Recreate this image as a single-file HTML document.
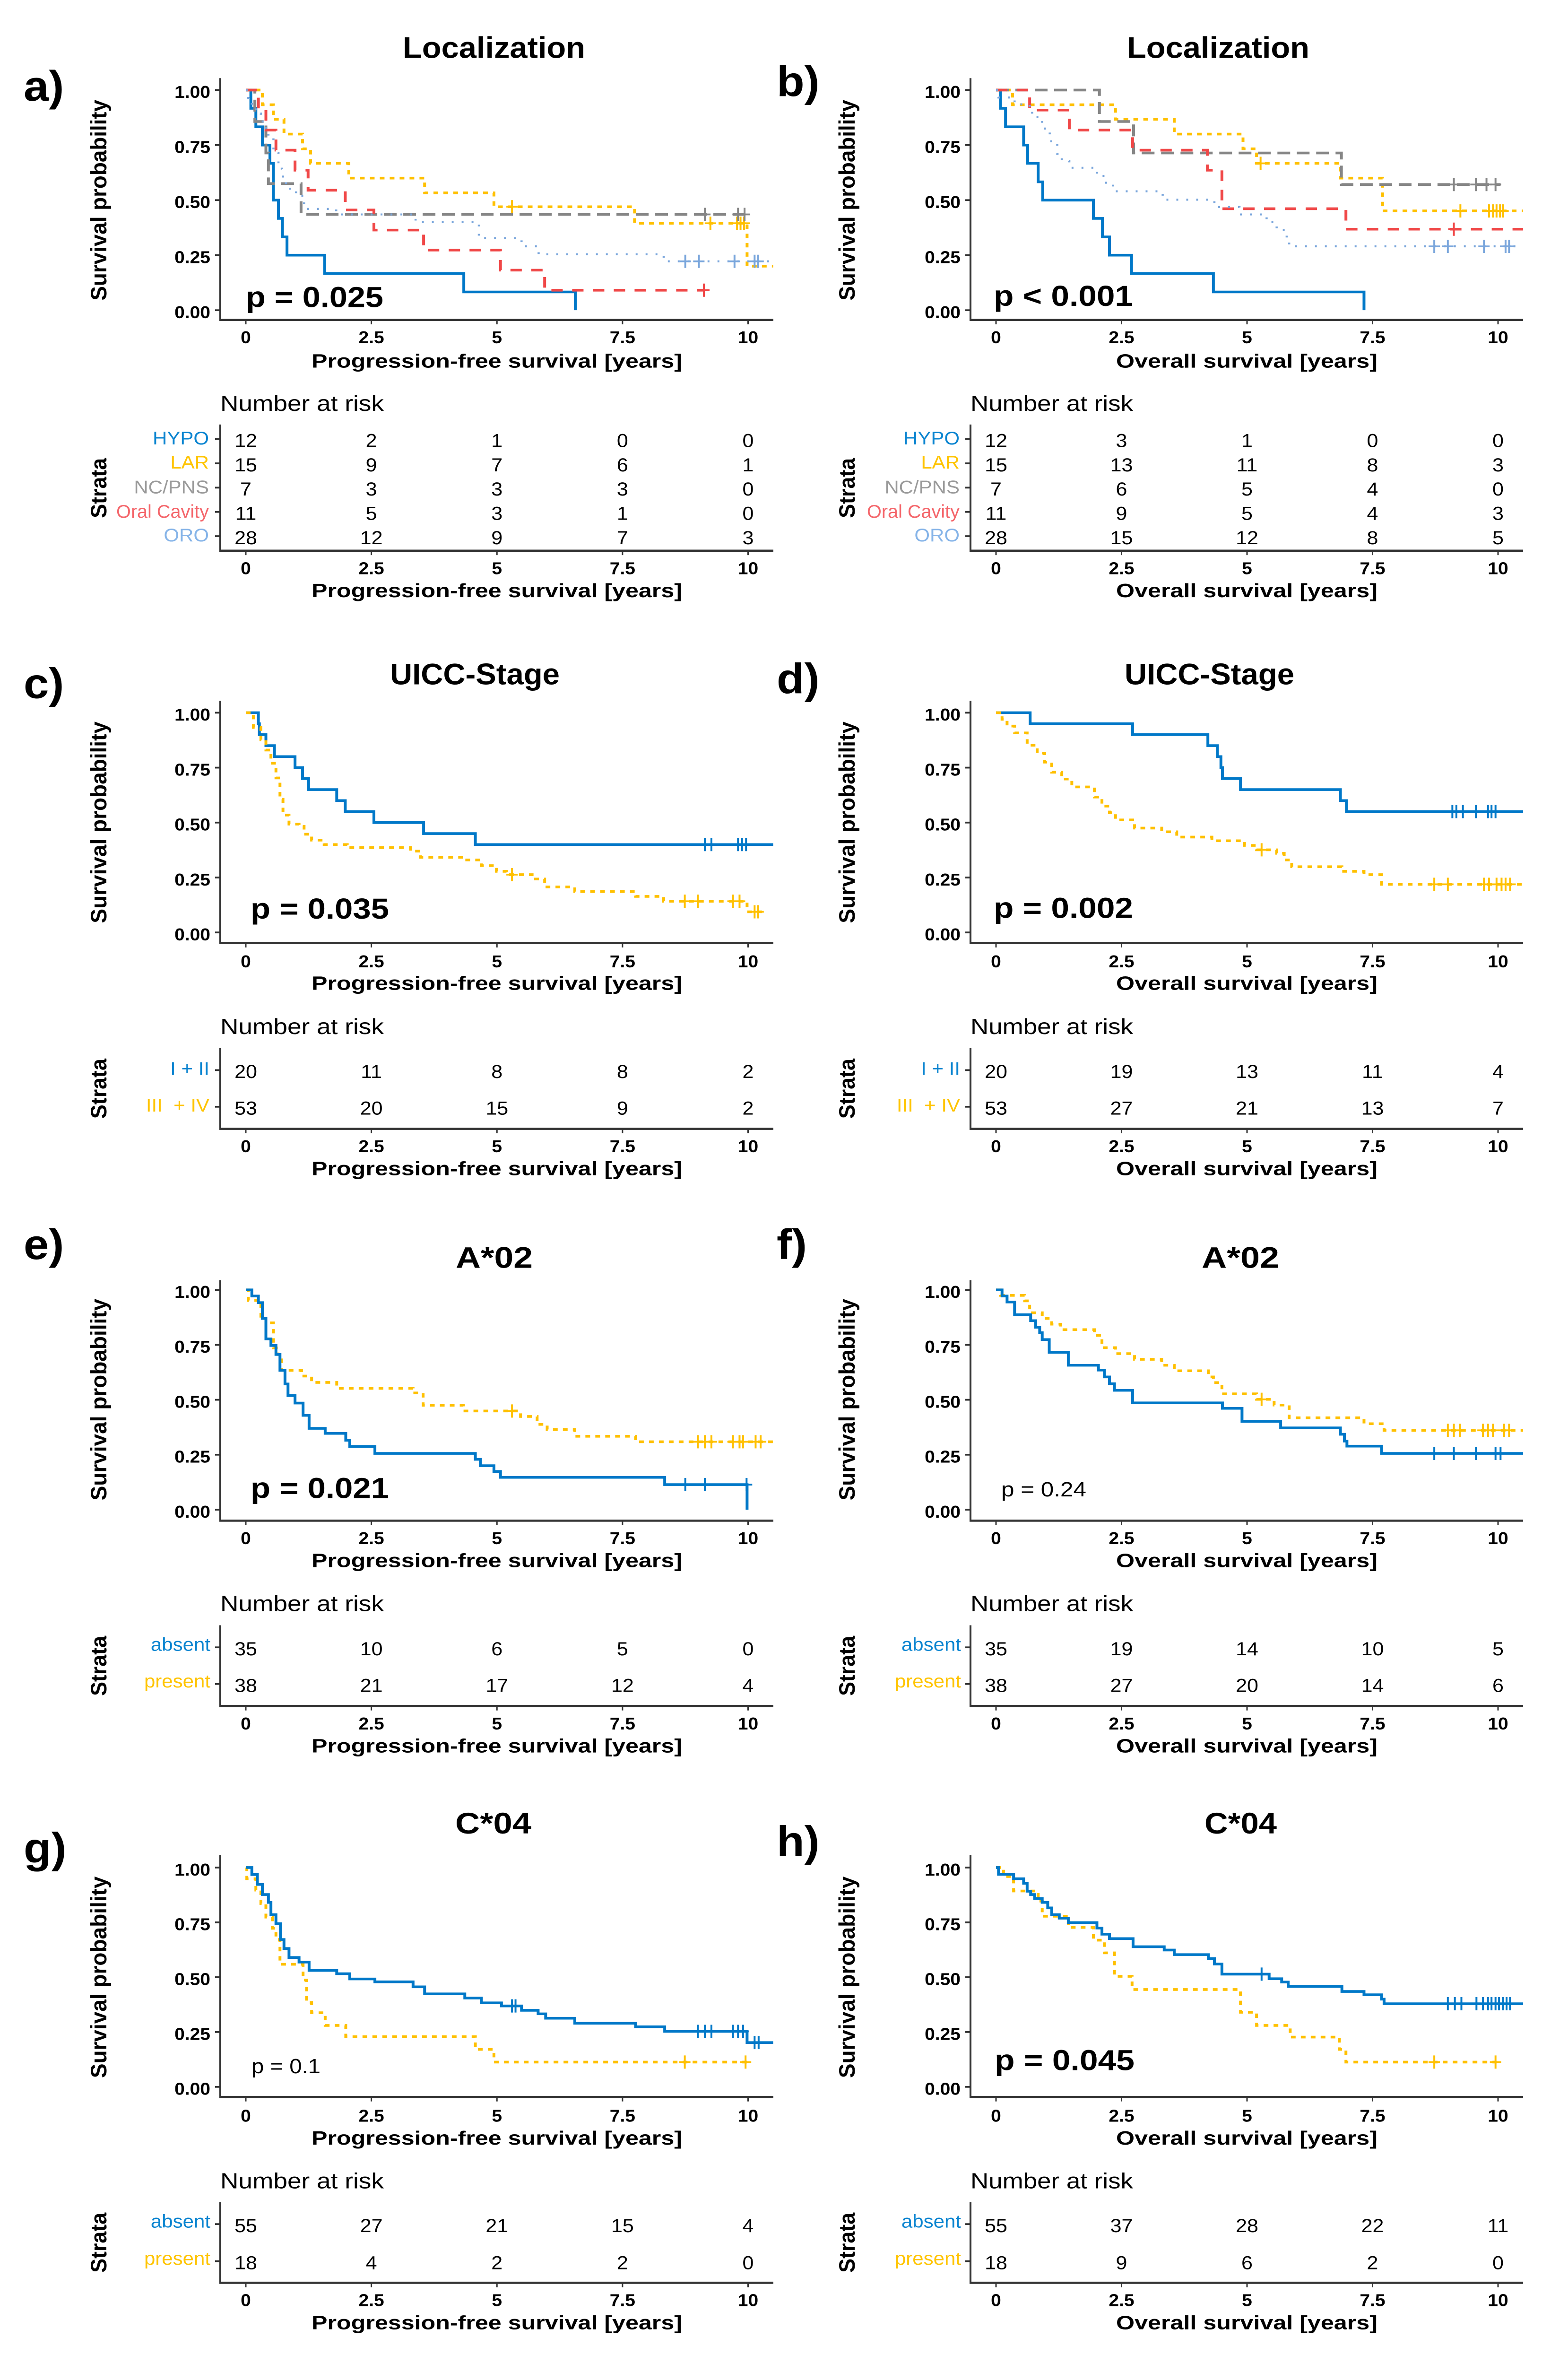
<!DOCTYPE html>
<html lang="en">
<head>
<meta charset="utf-8">
<title>Kaplan-Meier survival panels</title>
<style>
html,body{margin:0;padding:0;background:#fff;width:100%;height:100%;overflow:hidden;}
svg{display:block;position:absolute;left:0;top:0;width:100vw;height:100vh;}
text{font-family:"Liberation Sans",sans-serif;fill:#000;}
.title{font-size:68px;font-weight:700;}
.letter{font-size:96px;font-weight:700;}
.pb{font-size:66px;font-weight:700;}
.pn{font-size:47px;}
.yt{font-size:47px;font-weight:700;}
.xt{font-size:44px;font-weight:700;}
.nar{font-size:50px;}
.sl{font-size:42px;text-anchor:end;}
.tick{font-size:39px;font-weight:700;}
.num{font-size:43px;}
</style>
</head>
<body>
<svg id="figure" xmlns="http://www.w3.org/2000/svg" viewBox="0 0 3317 5357" preserveAspectRatio="none">
<rect width="3317" height="5357" fill="#fff"/>

<g id="static-labels">
<!-- panel a -->
<text class="letter" x="50" y="228">a)</text>
<text class="title" x="852" y="131" textLength="386" lengthAdjust="spacingAndGlyphs">Localization</text>
<text class="pb" x="520" y="696" textLength="291" lengthAdjust="spacingAndGlyphs">p = 0.025</text>
<text class="yt" transform="translate(225,681) rotate(-90)" textLength="455" lengthAdjust="spacingAndGlyphs">Survival probability</text>
<text class="xt" x="659" y="833" textLength="784" lengthAdjust="spacingAndGlyphs">Progression-free survival [years]</text>
<text class="nar" x="466" y="931" textLength="346" lengthAdjust="spacingAndGlyphs">Number at risk</text>
<text class="yt" transform="translate(225,1174) rotate(-90)" textLength="136" lengthAdjust="spacingAndGlyphs">Strata</text>
<text class="sl" x="442" y="1007" style="fill:#0a84d0">HYPO</text>
<text class="sl" x="442" y="1062" style="fill:#ffc400">LAR</text>
<text class="sl" x="442" y="1118" style="fill:#9a9a9a">NC/PNS</text>
<text class="sl" x="442" y="1173" textLength="196" lengthAdjust="spacingAndGlyphs" style="fill:#f4656a">Oral Cavity</text>
<text class="sl" x="442" y="1227" style="fill:#86b4e8">ORO</text>
<text class="xt" x="659" y="1353" textLength="784" lengthAdjust="spacingAndGlyphs">Progression-free survival [years]</text>

<!-- panel b -->
<text class="letter" x="1643" y="218">b)</text>
<text class="title" x="2384" y="131" textLength="386" lengthAdjust="spacingAndGlyphs">Localization</text>
<text class="pb" x="2102" y="693" textLength="295" lengthAdjust="spacingAndGlyphs">p &lt; 0.001</text>
<text class="yt" transform="translate(1808,681) rotate(-90)" textLength="455" lengthAdjust="spacingAndGlyphs">Survival probability</text>
<text class="xt" x="2361" y="833" textLength="553" lengthAdjust="spacingAndGlyphs">Overall survival [years]</text>
<text class="nar" x="2053" y="931" textLength="344" lengthAdjust="spacingAndGlyphs">Number at risk</text>
<text class="yt" transform="translate(1808,1174) rotate(-90)" textLength="136" lengthAdjust="spacingAndGlyphs">Strata</text>
<text class="sl" x="2030" y="1007" style="fill:#0a84d0">HYPO</text>
<text class="sl" x="2030" y="1062" style="fill:#ffc400">LAR</text>
<text class="sl" x="2030" y="1118" style="fill:#9a9a9a">NC/PNS</text>
<text class="sl" x="2030" y="1173" textLength="196" lengthAdjust="spacingAndGlyphs" style="fill:#f4656a">Oral Cavity</text>
<text class="sl" x="2030" y="1227" style="fill:#86b4e8">ORO</text>
<text class="xt" x="2361" y="1353" textLength="553" lengthAdjust="spacingAndGlyphs">Overall survival [years]</text>

<!-- panel c -->
<text class="letter" x="50" y="1582">c)</text>
<text class="title" x="825" y="1551" textLength="359" lengthAdjust="spacingAndGlyphs">UICC-Stage</text>
<text class="pb" x="530" y="2082" textLength="293" lengthAdjust="spacingAndGlyphs">p = 0.035</text>
<text class="yt" transform="translate(225,2092) rotate(-90)" textLength="457" lengthAdjust="spacingAndGlyphs">Survival probability</text>
<text class="xt" x="659" y="2243" textLength="784" lengthAdjust="spacingAndGlyphs">Progression-free survival [years]</text>
<text class="nar" x="466" y="2343" textLength="346" lengthAdjust="spacingAndGlyphs">Number at risk</text>
<text class="yt" transform="translate(225,2535) rotate(-90)" textLength="136" lengthAdjust="spacingAndGlyphs">Strata</text>
<text class="sl" x="443" y="2436" style="fill:#0a84d0">I + II</text>
<text class="sl" x="443" y="2519" xml:space="preserve" style="fill:#ffc400;white-space:pre">III  + IV</text>
<text class="xt" x="659" y="2663" textLength="784" lengthAdjust="spacingAndGlyphs">Progression-free survival [years]</text>

<!-- panel d -->
<text class="letter" x="1643" y="1571">d)</text>
<text class="title" x="2379" y="1551" textLength="359" lengthAdjust="spacingAndGlyphs">UICC-Stage</text>
<text class="pb" x="2102" y="2080" textLength="295" lengthAdjust="spacingAndGlyphs">p = 0.002</text>
<text class="yt" transform="translate(1808,2092) rotate(-90)" textLength="457" lengthAdjust="spacingAndGlyphs">Survival probability</text>
<text class="xt" x="2361" y="2243" textLength="553" lengthAdjust="spacingAndGlyphs">Overall survival [years]</text>
<text class="nar" x="2053" y="2343" textLength="344" lengthAdjust="spacingAndGlyphs">Number at risk</text>
<text class="yt" transform="translate(1808,2535) rotate(-90)" textLength="136" lengthAdjust="spacingAndGlyphs">Strata</text>
<text class="sl" x="2031" y="2436" style="fill:#0a84d0">I + II</text>
<text class="sl" x="2031" y="2519" xml:space="preserve" style="fill:#ffc400;white-space:pre">III  + IV</text>
<text class="xt" x="2361" y="2663" textLength="553" lengthAdjust="spacingAndGlyphs">Overall survival [years]</text>

<!-- panel e -->
<text class="letter" x="50" y="2853">e)</text>
<text class="title" x="964" y="2873" textLength="163" lengthAdjust="spacingAndGlyphs">A*02</text>
<text class="pb" x="530" y="3395" textLength="293" lengthAdjust="spacingAndGlyphs">p = 0.021</text>
<text class="yt" transform="translate(225,3400) rotate(-90)" textLength="457" lengthAdjust="spacingAndGlyphs">Survival probability</text>
<text class="xt" x="659" y="3551" textLength="784" lengthAdjust="spacingAndGlyphs">Progression-free survival [years]</text>
<text class="nar" x="466" y="3651" textLength="346" lengthAdjust="spacingAndGlyphs">Number at risk</text>
<text class="yt" transform="translate(225,3843) rotate(-90)" textLength="136" lengthAdjust="spacingAndGlyphs">Strata</text>
<text class="sl" x="445" y="3741" style="fill:#0a84d0">absent</text>
<text class="sl" x="445" y="3824" style="fill:#ffc400">present</text>
<text class="xt" x="659" y="3971" textLength="784" lengthAdjust="spacingAndGlyphs">Progression-free survival [years]</text>

<!-- panel f -->
<text class="letter" x="1643" y="2853">f)</text>
<text class="title" x="2542" y="2873" textLength="164" lengthAdjust="spacingAndGlyphs">A*02</text>
<text class="pn" x="2118" y="3391" textLength="180" lengthAdjust="spacingAndGlyphs">p = 0.24</text>
<text class="yt" transform="translate(1808,3400) rotate(-90)" textLength="457" lengthAdjust="spacingAndGlyphs">Survival probability</text>
<text class="xt" x="2361" y="3551" textLength="553" lengthAdjust="spacingAndGlyphs">Overall survival [years]</text>
<text class="nar" x="2053" y="3651" textLength="344" lengthAdjust="spacingAndGlyphs">Number at risk</text>
<text class="yt" transform="translate(1808,3843) rotate(-90)" textLength="136" lengthAdjust="spacingAndGlyphs">Strata</text>
<text class="sl" x="2033" y="3741" style="fill:#0a84d0">absent</text>
<text class="sl" x="2033" y="3824" style="fill:#ffc400">present</text>
<text class="xt" x="2361" y="3971" textLength="553" lengthAdjust="spacingAndGlyphs">Overall survival [years]</text>

<!-- panel g -->
<text class="letter" x="50" y="4221">g)</text>
<text class="title" x="963" y="4155" textLength="161" lengthAdjust="spacingAndGlyphs">C*04</text>
<text class="pn" x="532" y="4698" textLength="146" lengthAdjust="spacingAndGlyphs">p = 0.1</text>
<text class="yt" transform="translate(225,4709) rotate(-90)" textLength="457" lengthAdjust="spacingAndGlyphs">Survival probability</text>
<text class="xt" x="659" y="4860" textLength="784" lengthAdjust="spacingAndGlyphs">Progression-free survival [years]</text>
<text class="nar" x="466" y="4959" textLength="346" lengthAdjust="spacingAndGlyphs">Number at risk</text>
<text class="yt" transform="translate(225,5150) rotate(-90)" textLength="136" lengthAdjust="spacingAndGlyphs">Strata</text>
<text class="sl" x="445" y="5048" style="fill:#0a84d0">absent</text>
<text class="sl" x="445" y="5132" style="fill:#ffc400">present</text>
<text class="xt" x="659" y="5278" textLength="784" lengthAdjust="spacingAndGlyphs">Progression-free survival [years]</text>

<!-- panel h -->
<text class="letter" x="1643" y="4206">h)</text>
<text class="title" x="2548" y="4155" textLength="153" lengthAdjust="spacingAndGlyphs">C*04</text>
<text class="pb" x="2104" y="4691" textLength="296" lengthAdjust="spacingAndGlyphs">p = 0.045</text>
<text class="yt" transform="translate(1808,4709) rotate(-90)" textLength="457" lengthAdjust="spacingAndGlyphs">Survival probability</text>
<text class="xt" x="2361" y="4860" textLength="553" lengthAdjust="spacingAndGlyphs">Overall survival [years]</text>
<text class="nar" x="2053" y="4959" textLength="344" lengthAdjust="spacingAndGlyphs">Number at risk</text>
<text class="yt" transform="translate(1808,5150) rotate(-90)" textLength="136" lengthAdjust="spacingAndGlyphs">Strata</text>
<text class="sl" x="2033" y="5048" style="fill:#0a84d0">absent</text>
<text class="sl" x="2033" y="5132" style="fill:#ffc400">present</text>
<text class="xt" x="2361" y="5278" textLength="553" lengthAdjust="spacingAndGlyphs">Overall survival [years]</text>
</g>
<g id="charts"></g>
</svg>

<script>
// Shared axis values
const xTickValues = [0, 2.5, 5, 7.5, 10];
const xTickLabels = ['0', '2.5', '5', '7.5', '10'];
const yTickValues = [0, 0.25, 0.5, 0.75, 1];
const yTickLabels = ['0.00', '0.25', '0.50', '0.75', '1.00'];

// Panel a: Localization, progression-free survival
const aHypoT = [0.1,0.2,0.33,0.48,0.55,0.65,0.73,0.82,1.57,4.34,6.56];
const aHypoS = [0.917,0.833,0.75,0.667,0.5,0.417,0.333,0.25,0.167,0.083,0];
const aHypoC = [];
const aHypoEnd = [6.56];
const aLarT = [0.33,0.55,0.76,1.13,1.29,2.05,3.56,4.94,7.74,9.98];
const aLarS = [0.933,0.867,0.8,0.733,0.667,0.6,0.533,0.47,0.395,0.2];
const aLarC = [5.3,9.25,9.78,9.85,9.92];
const aLarEnd = [10.5];
const aNcT = [0.18,0.4,0.45,1.1];
const aNcS = [0.857,0.714,0.575,0.435];
const aNcC = [9.14,9.8,9.93];
const aNcEnd = [10.03];
const aOralT = [0.25,0.4,0.6,0.98,1.24,1.98,2.55,3.54,5.07,5.95];
const aOralS = [0.909,0.818,0.727,0.636,0.545,0.455,0.364,0.273,0.182,0.091];
const aOralC = [9.12];
const aOralEnd = [9.12];
const aOroT = [0.05,0.12,0.2,0.3,0.4,0.45,0.55,0.65,0.72,0.8,1.0,1.16,1.8,3.38,4.64,5.49,5.83,8.32];
const aOroS = [0.964,0.929,0.893,0.857,0.821,0.786,0.714,0.643,0.607,0.552,0.52,0.46,0.435,0.4,0.327,0.29,0.254,0.222];
const aOroC = [8.75,9.02,9.73,10.13,10.2];
const aOroEnd = [10.43];
const aRisk = [[12,2,1,0,0],[15,9,7,6,1],[7,3,3,3,0],[11,5,3,1,0],[28,12,9,7,3]];

// Panel b: Localization, overall survival
const bHypoT = [0.09,0.19,0.55,0.63,0.84,0.93,1.94,2.12,2.26,2.7,4.33,7.33];
const bHypoS = [0.917,0.833,0.75,0.667,0.583,0.5,0.417,0.333,0.25,0.167,0.083,0];
const bHypoC = [];
const bHypoEnd = [7.33];
const bLarT = [0.33,2.38,3.55,4.92,5.19,6.86,7.7];
const bLarS = [0.933,0.867,0.8,0.733,0.667,0.6,0.451];
const bLarC = [5.27,9.25,9.82,9.9,9.97,10.04,10.1];
const bLarEnd = [10.5];
const bNcT = [2.06,2.74,6.88];
const bNcS = [0.857,0.714,0.571];
const bNcC = [9.12,9.56,9.77,9.95];
const bNcEnd = [10.05];
const bOralT = [0.67,1.46,2.72,4.21,4.5,6.97];
const bOralS = [0.909,0.818,0.727,0.636,0.461,0.368];
const bOralC = [9.12];
const bOralEnd = [10.5];
const bOroT = [0.05,0.37,0.67,0.72,0.92,1.07,1.22,1.31,1.46,2.01,2.16,2.33,3.32,4.35,4.85,5.39,5.59,5.79,5.84];
const bOroS = [0.966,0.935,0.924,0.877,0.825,0.767,0.71,0.678,0.647,0.61,0.579,0.54,0.502,0.469,0.435,0.4,0.364,0.327,0.29];
const bOroC = [8.73,9.0,9.72,10.15,10.22];
const bOroEnd = [10.5];
const bRisk = [[12,3,1,0,0],[15,13,11,8,3],[7,6,5,4,0],[11,9,5,4,3],[28,15,12,8,5]];

// Panel c: UICC stage, progression-free survival
const cLowT = [0.25,0.27,0.4,0.57,0.98,1.13,1.25,1.81,1.98,2.55,3.54,4.57];
const cLowS = [0.95,0.9,0.85,0.8,0.75,0.7,0.65,0.6,0.55,0.5,0.45,0.4];
const cLowC = [9.14,9.27,9.8,9.88,9.96];
const cLowEnd = [10.5];
const cHighT = [0.15,0.3,0.4,0.5,0.6,0.68,0.74,0.86,1.06,1.16,1.31,1.56,2.02,3.28,3.48,4.33,4.69,4.99,5.19,5.7,5.95,6.55,7.76,8.32,9.98];
const cHighS = [0.933,0.877,0.83,0.77,0.703,0.606,0.534,0.493,0.483,0.447,0.42,0.4,0.386,0.37,0.342,0.33,0.304,0.278,0.263,0.243,0.207,0.186,0.164,0.142,0.094];
const cHighC = [5.3,8.74,9.0,9.7,9.83,10.13,10.2];
const cHighEnd = [10.28];
const cRisk = [[20,11,8,8,2],[53,20,15,9,2]];

// Panel d: UICC stage, overall survival
const dLowT = [0.68,2.72,4.22,4.41,4.48,4.51,4.87,6.86,6.98];
const dLowS = [0.95,0.9,0.85,0.8,0.75,0.7,0.65,0.6,0.55];
const dLowC = [9.09,9.17,9.3,9.56,9.8,9.87,9.95];
const dLowEnd = [10.5];
const dHighT = [0.12,0.22,0.37,0.62,0.82,0.97,1.11,1.31,1.51,1.96,2.11,2.26,2.38,2.76,3.3,3.6,4.3,4.95,5.19,5.59,5.74,5.89,6.89,7.33,7.68];
const dHighS = [0.97,0.939,0.908,0.852,0.816,0.775,0.729,0.698,0.662,0.616,0.575,0.545,0.512,0.475,0.458,0.434,0.417,0.396,0.376,0.36,0.33,0.299,0.278,0.263,0.219];
const dHighC = [5.29,8.73,9.0,9.72,9.82,9.97,10.07,10.15,10.24];
const dHighEnd = [10.5];
const dRisk = [[20,19,13,11,4],[53,27,21,13,7]];

// Panel e: A*02, progression-free survival
const eAbsT = [0.12,0.25,0.33,0.4,0.5,0.6,0.68,0.78,0.84,0.98,1.14,1.26,1.58,1.99,2.07,2.57,4.57,4.67,4.94,5.07,8.34,9.98];
const eAbsS = [0.972,0.942,0.87,0.777,0.747,0.706,0.634,0.572,0.519,0.485,0.429,0.37,0.347,0.316,0.288,0.256,0.229,0.2,0.174,0.147,0.114,0];
const eAbsC = [8.75,9.14,9.97];
const eAbsEnd = [9.98];
const ePreT = [0.05,0.3,0.4,0.55,0.64,0.71,1.11,1.31,1.81,3.33,3.53,4.33,5.47,5.8,6.0,6.55,7.76];
const ePreS = [0.952,0.88,0.85,0.736,0.706,0.634,0.608,0.579,0.552,0.531,0.475,0.449,0.424,0.388,0.365,0.334,0.309];
const ePreC = [5.3,9.0,9.14,9.27,9.7,9.83,9.9,10.15,10.25];
const ePreEnd = [10.5];
const eRisk = [[35,10,6,5,0],[38,21,17,12,4]];

// Panel f: A*02, overall survival
const fAbsT = [0.12,0.22,0.37,0.69,0.79,0.87,0.92,1.06,1.44,2.04,2.16,2.26,2.36,2.72,4.51,4.9,5.67,6.86,6.94,6.99,7.68];
const fAbsS = [0.972,0.945,0.887,0.86,0.83,0.805,0.774,0.716,0.657,0.635,0.604,0.573,0.543,0.486,0.461,0.402,0.372,0.343,0.312,0.289,0.256];
const fAbsC = [8.73,9.12,9.56,9.95,10.05];
const fAbsEnd = [10.5];
const fPreT = [0.09,0.57,0.67,0.92,1.11,1.29,1.96,2.11,2.38,2.76,3.3,3.55,4.23,4.33,4.5,5.19,5.54,5.84,7.33,7.73];
const fPreS = [0.975,0.95,0.896,0.87,0.844,0.819,0.793,0.737,0.71,0.684,0.657,0.632,0.604,0.578,0.527,0.502,0.476,0.418,0.391,0.361];
const fPreC = [5.29,9.0,9.12,9.24,9.7,9.8,9.9,10.12,10.22];
const fPreEnd = [10.5];
const fRisk = [[35,19,14,10,5],[38,27,20,14,6]];

// Panel g: C*04, progression-free survival
const gAbsT = [0.12,0.23,0.33,0.45,0.5,0.6,0.69,0.76,0.86,1.06,1.26,1.81,2.07,2.57,3.33,3.56,4.36,4.69,5.09,5.49,5.82,5.97,6.55,7.76,8.34,9.98];
const gAbsS = [0.968,0.923,0.877,0.841,0.785,0.744,0.672,0.631,0.59,0.569,0.531,0.516,0.492,0.479,0.456,0.424,0.405,0.383,0.369,0.349,0.333,0.313,0.29,0.274,0.253,0.202];
const gAbsC = [5.3,5.37,9.0,9.14,9.27,9.7,9.8,9.9,10.13,10.21];
const gAbsEnd = [10.5];
const gPreT = [0.02,0.2,0.3,0.4,0.53,0.6,0.68,1.14,1.21,1.31,1.58,1.99,4.57,4.94];
const gPreS = [0.949,0.897,0.836,0.774,0.723,0.672,0.559,0.487,0.385,0.338,0.28,0.229,0.171,0.113];
const gPreC = [8.74,9.95];
const gPreEnd = [10.03];
const gRisk = [[55,27,21,15,4],[18,4,2,2,0]];

// Panel h: C*04, overall survival
const hAbsT = [0.05,0.35,0.55,0.62,0.69,0.77,0.92,1.03,1.11,1.26,1.44,2.01,2.11,2.26,2.73,3.35,3.55,4.23,4.35,4.5,5.44,5.69,5.82,6.89,7.33,7.68,7.73];
const hAbsS = [0.969,0.949,0.928,0.892,0.877,0.859,0.841,0.816,0.785,0.769,0.749,0.724,0.696,0.676,0.639,0.624,0.603,0.585,0.56,0.514,0.493,0.478,0.458,0.435,0.42,0.4,0.379];
const hAbsC = [5.29,9.0,9.14,9.27,9.57,9.7,9.8,9.87,9.95,10.02,10.1,10.17,10.24];
const hAbsEnd = [10.5];
const hPreT = [0.15,0.35,0.84,0.92,1.44,1.94,2.16,2.36,2.71,4.87,5.19,5.86,6.84,6.97];
const hPreS = [0.959,0.893,0.847,0.778,0.727,0.669,0.611,0.504,0.444,0.34,0.28,0.227,0.171,0.113];
const hPreC = [8.73,9.95];
const hPreEnd = [9.97];
const hRisk = [[55,37,28,22,11],[18,9,6,2,0]];

// Line styles and layout (not data)
const BLUE = '#0078c8', YEL = '#ffc000', GREY = '#868686', RED = '#f04848', SKY = '#7aa6dc';
const SOLID = {color: BLUE, dash: '', w: 6};
const SHORT = {color: YEL, dash: '10 11', w: 6};
const LONG = {color: GREY, dash: '27 14', w: 6};
const MID = {color: RED, dash: '24 20', w: 6};
const DOT = {color: SKY, dash: '4 17', w: 4.5};

const colL = {x0: 520, x10: 1582.5, ax: 466, end: 1636};
const colR = {x0: 2107, x10: 3169, ax: 2053, end: 3222};
const rowGeom = [
  {y1: 204, y0: 703, top: 177, bot: 725, tickBase: 778, tTop: 962, tBot: 1248, first: 995, last: 1215},
  {y1: 1615, y0: 2113, top: 1588, bot: 2137, tickBase: 2192, tTop: 2375, tBot: 2558, first: 2425, last: 2508},
  {y1: 2923, y0: 3421, top: 2901, bot: 3446, tickBase: 3499, tTop: 3683, tBot: 3866, first: 3733, last: 3816},
  {y1: 4232, y0: 4729, top: 4204, bot: 4752, tickBase: 4808, tTop: 4990, tBot: 5173, first: 5040, last: 5124}
];

const panels = [
  {id: 'a', col: colL, row: rowGeom[0], risk: aRisk, series: [
    {name: 'hypo', st: SOLID, t: aHypoT, s: aHypoS, c: aHypoC, end: aHypoEnd},
    {name: 'lar', st: SHORT, t: aLarT, s: aLarS, c: aLarC, end: aLarEnd},
    {name: 'nc-pns', st: LONG, t: aNcT, s: aNcS, c: aNcC, end: aNcEnd},
    {name: 'oral-cavity', st: MID, t: aOralT, s: aOralS, c: aOralC, end: aOralEnd},
    {name: 'oro', st: DOT, t: aOroT, s: aOroS, c: aOroC, end: aOroEnd}]},
  {id: 'b', col: colR, row: rowGeom[0], risk: bRisk, series: [
    {name: 'hypo', st: SOLID, t: bHypoT, s: bHypoS, c: bHypoC, end: bHypoEnd},
    {name: 'lar', st: SHORT, t: bLarT, s: bLarS, c: bLarC, end: bLarEnd},
    {name: 'nc-pns', st: LONG, t: bNcT, s: bNcS, c: bNcC, end: bNcEnd},
    {name: 'oral-cavity', st: MID, t: bOralT, s: bOralS, c: bOralC, end: bOralEnd},
    {name: 'oro', st: DOT, t: bOroT, s: bOroS, c: bOroC, end: bOroEnd}]},
  {id: 'c', col: colL, row: rowGeom[1], risk: cRisk, series: [
    {name: 'stage-1-2', st: SOLID, t: cLowT, s: cLowS, c: cLowC, end: cLowEnd},
    {name: 'stage-3-4', st: SHORT, t: cHighT, s: cHighS, c: cHighC, end: cHighEnd}]},
  {id: 'd', col: colR, row: rowGeom[1], risk: dRisk, series: [
    {name: 'stage-1-2', st: SOLID, t: dLowT, s: dLowS, c: dLowC, end: dLowEnd},
    {name: 'stage-3-4', st: SHORT, t: dHighT, s: dHighS, c: dHighC, end: dHighEnd}]},
  {id: 'e', col: colL, row: rowGeom[2], risk: eRisk, series: [
    {name: 'present', st: SHORT, t: ePreT, s: ePreS, c: ePreC, end: ePreEnd},
    {name: 'absent', st: SOLID, t: eAbsT, s: eAbsS, c: eAbsC, end: eAbsEnd}]},
  {id: 'f', col: colR, row: rowGeom[2], risk: fRisk, series: [
    {name: 'present', st: SHORT, t: fPreT, s: fPreS, c: fPreC, end: fPreEnd},
    {name: 'absent', st: SOLID, t: fAbsT, s: fAbsS, c: fAbsC, end: fAbsEnd}]},
  {id: 'g', col: colL, row: rowGeom[3], risk: gRisk, series: [
    {name: 'present', st: SHORT, t: gPreT, s: gPreS, c: gPreC, end: gPreEnd},
    {name: 'absent', st: SOLID, t: gAbsT, s: gAbsS, c: gAbsC, end: gAbsEnd}]},
  {id: 'h', col: colR, row: rowGeom[3], risk: hRisk, series: [
    {name: 'present', st: SHORT, t: hPreT, s: hPreS, c: hPreC, end: hPreEnd},
    {name: 'absent', st: SOLID, t: hAbsT, s: hAbsS, c: hAbsC, end: hAbsEnd}]}
];

const NS = 'http://www.w3.org/2000/svg';
const root = document.getElementById('charts');

function makeLine(parent, x1, y1, x2, y2, color, width) {
  const el = document.createElementNS(NS, 'line');
  el.setAttribute('x1', x1);
  el.setAttribute('y1', y1);
  el.setAttribute('x2', x2);
  el.setAttribute('y2', y2);
  el.setAttribute('stroke', color);
  el.setAttribute('stroke-width', width);
  parent.appendChild(el);
  return el;
}

function makeText(parent, x, y, str, cls, anchor) {
  const el = document.createElementNS(NS, 'text');
  el.setAttribute('x', x);
  el.setAttribute('y', y);
  el.setAttribute('class', cls);
  el.setAttribute('text-anchor', anchor);
  el.textContent = str;
  parent.appendChild(el);
  return el;
}

function survivalAt(series, time) {
  let value = 1;
  for (let i = 0; i < series.t.length; i++) {
    if (series.t[i] <= time) value = series.s[i];
  }
  return value;
}

function drawPanel(p) {
  const xScale = v => p.col.x0 + (p.col.x10 - p.col.x0) * v / 10;
  const yScale = v => p.row.y0 + (p.row.y1 - p.row.y0) * v;
  const g = document.createElementNS(NS, 'g');
  
  
  root.appendChild(g);

  // plot axes
  const yAxis = makeLine(g, p.col.ax, p.row.top, p.col.ax, p.row.bot + 2, '#333', 4);
  
  
  const xAxis = makeLine(g, p.col.ax - 2, p.row.bot, p.col.end, p.row.bot, '#333', 5);
  
  

  yTickValues.forEach((v, i) => {
    const tick = makeLine(g, p.col.ax - 11, yScale(v), p.col.ax, yScale(v), '#333', 4);
    
    
    const label = makeText(g, p.col.ax - 21, yScale(v) + 18, yTickLabels[i], 'tick', 'end');
    
    
  });
  xTickValues.forEach((v, i) => {
    const tick = makeLine(g, xScale(v), p.row.bot, xScale(v), p.row.bot + 10, '#333', 3);
    
    
    const label = makeText(g, xScale(v), p.row.tickBase, xTickLabels[i], 'tick', 'middle');
    
    
  });

  // curves
  p.series.forEach(se => {
    let d = 'M' + xScale(0) + ' ' + yScale(1);
    se.t.forEach((tv, i) => {
      d += 'H' + xScale(tv) + 'V' + yScale(se.s[i]);
    });
    d += 'H' + xScale(se.end[0]);
    const path = document.createElementNS(NS, 'path');
    path.setAttribute('d', d);
    path.setAttribute('fill', 'none');
    path.setAttribute('stroke', se.st.color);
    path.setAttribute('stroke-width', se.st.w);
    if (se.st.dash) path.setAttribute('stroke-dasharray', se.st.dash);
    
    
    g.appendChild(path);
    se.c.forEach(ct => {
      const cy = yScale(survivalAt(se, ct));
      const cx = xScale(ct);
      const mark = document.createElementNS(NS, 'path');
      mark.setAttribute('d', 'M' + (cx - 12) + ' ' + cy + 'H' + (cx + 12) + 'M' + cx + ' ' + (cy - 15) + 'V' + (cy + 15));
      mark.setAttribute('stroke', se.st.color);
      mark.setAttribute('stroke-width', 4);
      mark.setAttribute('fill', 'none');
      
      
      g.appendChild(mark);
    });
  });

  // risk table
  const tY = makeLine(g, p.col.ax, p.row.tTop, p.col.ax, p.row.tBot + 2, '#333', 4);
  
  
  const tX = makeLine(g, p.col.ax - 2, p.row.tBot, p.col.end, p.row.tBot, '#333', 5);
  
  
  const n = p.risk.length;
  const rowY = i => p.row.first + (p.row.last - p.row.first) * i / (n - 1);
  p.risk.forEach((vals, i) => {
    const tick = makeLine(g, p.col.ax - 11, rowY(i), p.col.ax, rowY(i), '#333', 4);
    
    
    vals.forEach((v, j) => {
      const cell = makeText(g, xScale(xTickValues[j]), rowY(i) + 18, String(v), 'num', 'middle');
      
      
    });
  });
  xTickValues.forEach((v, i) => {
    const tick = makeLine(g, xScale(v), p.row.tBot, xScale(v), p.row.tBot + 10, '#333', 3);
    
    
    const label = makeText(g, xScale(v), p.row.tBot + 53, xTickLabels[i], 'tick', 'middle');
    
    
  });
}

panels.forEach(drawPanel);
</script>
</body>
</html>
